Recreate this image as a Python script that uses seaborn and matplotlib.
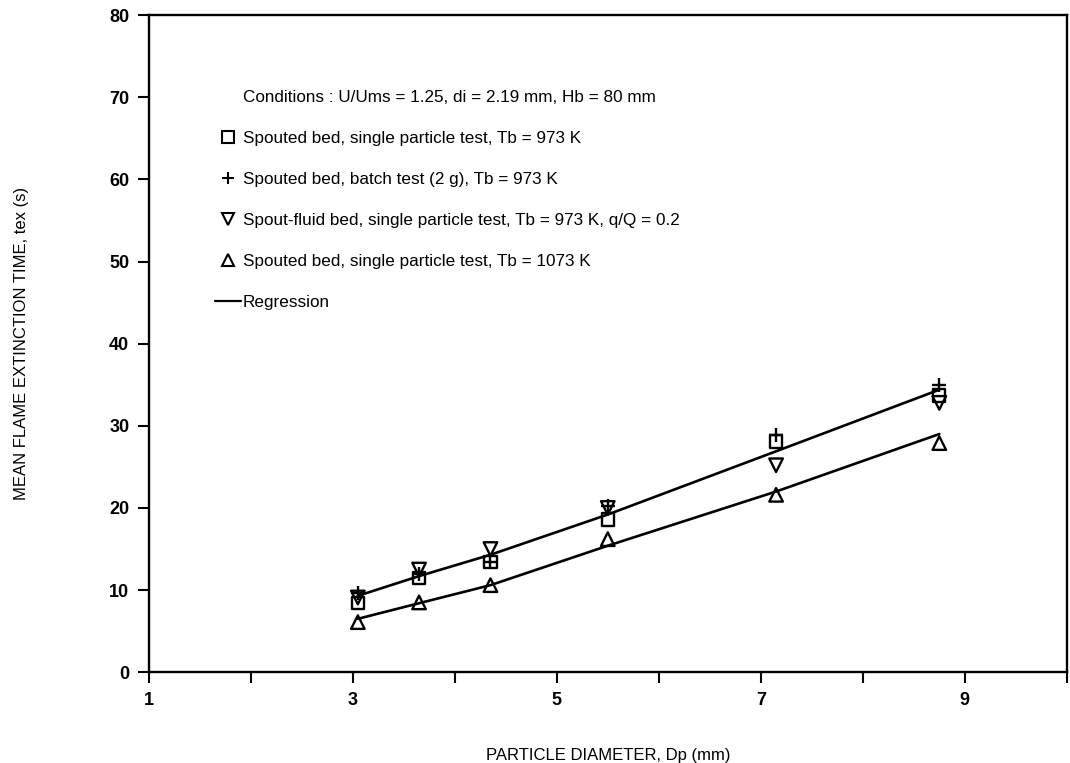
import matplotlib
matplotlib.use("Agg")
import matplotlib.pyplot as plt
from matplotlib.lines import Line2D
import seaborn as sns
import pandas as pd

# ---- data ----
dp = [3.05, 3.65, 4.35, 5.5, 7.15, 8.75]
sq_973 = [8.4, 11.5, 13.4, 18.6, 28.1, 33.7]        # spouted bed, single particle, 973 K
batch_973 = [9.6, 12.0, 13.4, 20.2, 28.9, 35.0]     # spouted bed, batch test
sfb_973 = [9.1, 12.5, 15.0, 20.0, 25.2, 32.8]       # spout-fluid bed
sq_1073 = [6.1, 8.5, 10.6, 16.2, 21.6, 27.9]        # spouted bed, 1073 K
reg_973 = [9.3, 11.7, 14.3, 19.2, 26.9, 34.4]
reg_1073 = [6.5, 8.4, 10.6, 15.4, 22.0, 29.0]

labels = [
    "Conditions : U/Ums = 1.25, di = 2.19 mm, Hb = 80 mm",
    "Spouted bed, single particle test, Tb = 973 K",
    "Spouted bed, batch test (2 g), Tb = 973 K",
    "Spout-fluid bed, single particle test, Tb = 973 K, q/Q = 0.2",
    "Spouted bed, single particle test, Tb = 1073 K",
    "Regression",
]
xticks = [1, 2, 3, 4, 5, 6, 7, 8, 9, 10]
xticklabels = ["1", "", "3", "", "5", "", "7", "", "9", ""]
yticks = [0, 10, 20, 30, 40, 50, 60, 70, 80]

sns.set_theme(style="white")
plt.rcParams["font.family"] = ["Liberation Sans", "DejaVu Sans"]
plt.rcParams["text.color"] = "black"
plt.rcParams["axes.labelcolor"] = "black"
plt.rcParams["xtick.color"] = "black"
plt.rcParams["ytick.color"] = "black"

fig = plt.figure(figsize=(10.7, 7.63), dpi=100)
ax = fig.add_axes([0.139, 0.119, 0.858, 0.861])

df = pd.DataFrame({"dp": dp, "reg973": reg_973, "reg1073": reg_1073})
sns.lineplot(data=df, x="dp", y="reg973", ax=ax, color="black", lw=1.9, legend=False)
sns.lineplot(data=df, x="dp", y="reg1073", ax=ax, color="black", lw=1.9, legend=False)

sns.scatterplot(x=dp, y=sq_973, ax=ax, marker="s", s=80, facecolors="none",
                edgecolor="black", linewidth=1.7, zorder=3)
sns.scatterplot(x=dp, y=batch_973, ax=ax, marker="+", s=110, color="black",
                linewidth=1.7, zorder=3)
sns.scatterplot(x=dp, y=sfb_973, ax=ax, marker="v", s=95, facecolors="none",
                edgecolor="black", linewidth=1.7, zorder=3)
sns.scatterplot(x=dp, y=sq_1073, ax=ax, marker="^", s=95, facecolors="none",
                edgecolor="black", linewidth=1.7, zorder=3)

ax.set_xlim(1, 10)
ax.set_ylim(0, 80)
ax.set_xticks(xticks)
ax.set_xticklabels(xticklabels)
ax.set_yticks(yticks)
for lab in ax.get_xticklabels() + ax.get_yticklabels():
    lab.set_fontweight("bold")
    lab.set_fontsize(13)
ax.tick_params(axis="both", direction="out", length=8, width=1.5, color="black",
               labelcolor="black", left=True, bottom=True, pad=6)
for sp in ax.spines.values():
    sp.set_color("black")
    sp.set_linewidth(1.7)

ax.set_xlabel("PARTICLE DIAMETER, Dp (mm)", fontsize=12, labelpad=28, color="black")
ax.set_ylabel("MEAN FLAME EXTINCTION TIME, tex (s)", fontsize=12, labelpad=58,
              color="black")

handles = [
    Line2D([], [], linestyle="none"),
    Line2D([], [], linestyle="none", marker="s", markersize=8, markerfacecolor="none",
           markeredgecolor="black", markeredgewidth=1.5),
    Line2D([], [], linestyle="none", marker="+", markersize=9, color="black",
           markeredgewidth=1.5),
    Line2D([], [], linestyle="none", marker="v", markersize=8, markerfacecolor="none",
           markeredgecolor="black", markeredgewidth=1.5),
    Line2D([], [], linestyle="none", marker="^", markersize=8, markerfacecolor="none",
           markeredgecolor="black", markeredgewidth=1.5),
    Line2D([], [], color="black", lw=1.6),
]
leg = ax.legend(handles, labels, loc="upper left", bbox_to_anchor=(0.072, 0.886),
                frameon=False, borderpad=0, borderaxespad=0, handlelength=1.55,
                handletextpad=0.1, labelspacing=1.52, fontsize=12.3)
for t in leg.get_texts():
    t.set_color("black")

fig.savefig("out.png", dpi=100, facecolor="white")
